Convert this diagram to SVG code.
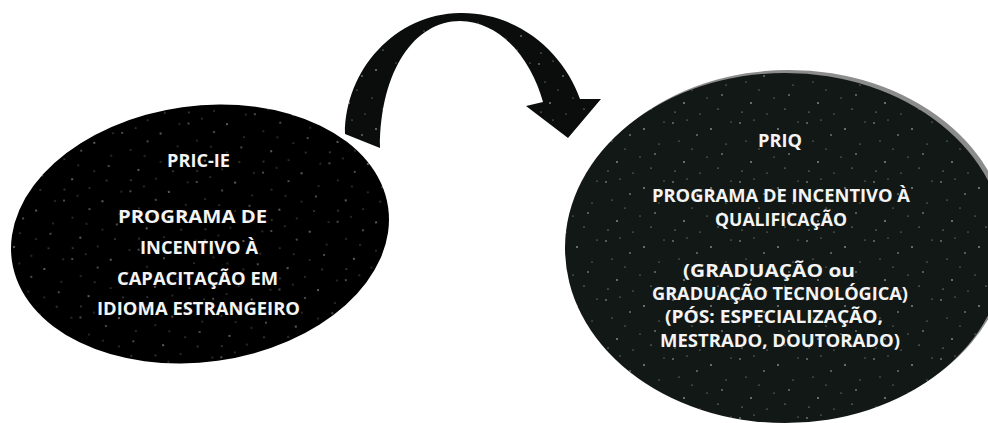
<svg xmlns="http://www.w3.org/2000/svg" width="988" height="423" viewBox="0 0 988 423">
  <defs>
    <pattern id="speck" width="67" height="59" patternUnits="userSpaceOnUse">
      <circle cx="3" cy="5" r="0.7"/>
      <circle cx="17" cy="2" r="0.5"/>
      <circle cx="41" cy="11" r="0.8"/>
      <circle cx="9" cy="23" r="0.5"/>
      <circle cx="27" cy="17" r="0.7"/>
      <circle cx="56" cy="26" r="0.5"/>
      <circle cx="14" cy="44" r="0.8"/>
      <circle cx="37" cy="39" r="0.5"/>
      <circle cx="5" cy="53" r="0.6"/>
      <circle cx="61" cy="4" r="0.5"/>
      <circle cx="48" cy="50" r="0.6"/>
      <circle cx="30" cy="55" r="0.5"/>
      <circle cx="52" cy="36" r="0.7"/>
      <circle cx="22" cy="31" r="0.5"/>
    </pattern>
    <style>
      .lbl { font-family: "Open Sans", Lato, "Liberation Sans", sans-serif; font-weight: 700; fill: #f4f4f4; text-anchor: middle; }
      .l { font-size: 18px; }
      .r { font-size: 17px; }
      .dots { fill: url(#speck); }
      #speck circle { fill: #ffffff; opacity: 0.8; }
    </style>
  </defs>
  <rect width="988" height="423" fill="#ffffff"/>

  <g id="connectors">
    <path id="arrow" d="M 345 134 C 345 70 395 14 460 13 C 520 12 565 55 580 99 L 601 99 L 568 138 L 526 106 L 543 102 C 533 65 505 22 460 21 C 415 21 380 70 380 148 Z" fill="#0a0d0b"/>
    <path d="M 345 134 C 345 70 395 14 460 13 C 520 12 565 55 580 99 L 601 99 L 568 138 L 526 106 L 543 102 C 533 65 505 22 460 21 C 415 21 380 70 380 148 Z" class="dots"/>
  </g>

  <g id="node-pric-ie">
    <ellipse cx="200" cy="234" rx="190" ry="128" transform="rotate(-8 200 234)" fill="#000000"/>
    <ellipse cx="200" cy="234" rx="190" ry="128" transform="rotate(-8 200 234)" class="dots"/>
    <text class="lbl l" x="198.5" y="167" textLength="63" lengthAdjust="spacingAndGlyphs">PRIC-IE</text>
    <text class="lbl l" x="192.5" y="223" textLength="149" lengthAdjust="spacingAndGlyphs">PROGRAMA DE</text>
    <text class="lbl l" x="199" y="254" textLength="118" lengthAdjust="spacingAndGlyphs">INCENTIVO À</text>
    <text class="lbl l" x="197.5" y="285" textLength="161" lengthAdjust="spacingAndGlyphs">CAPACITAÇÃO EM</text>
    <text class="lbl l" x="198.5" y="315" textLength="203" lengthAdjust="spacingAndGlyphs">IDIOMA ESTRANGEIRO</text>
  </g>

  <g id="node-priq">
    <ellipse cx="789" cy="245" rx="220" ry="175" fill="#8c8c8c"/>
    <ellipse cx="785" cy="248" rx="220" ry="175" fill="#121815"/>
    <ellipse cx="785" cy="248" rx="220" ry="175" class="dots"/>
    <text class="lbl r" x="780" y="147" textLength="44" lengthAdjust="spacingAndGlyphs">PRIQ</text>
    <text class="lbl r" x="781" y="202" textLength="258" lengthAdjust="spacingAndGlyphs">PROGRAMA DE INCENTIVO À</text>
    <text class="lbl r" x="781" y="226" textLength="132" lengthAdjust="spacingAndGlyphs">QUALIFICAÇÃO</text>
    <text class="lbl r" x="769" y="277" textLength="172" lengthAdjust="spacingAndGlyphs">(GRADUAÇÃO ou</text>
    <text class="lbl r" x="780" y="300" textLength="256" lengthAdjust="spacingAndGlyphs">GRADUAÇÃO TECNOLÓGICA)</text>
    <text class="lbl r" x="774" y="323" textLength="218" lengthAdjust="spacingAndGlyphs">(PÓS: ESPECIALIZAÇÃO,</text>
    <text class="lbl r" x="780" y="347" textLength="240" lengthAdjust="spacingAndGlyphs">MESTRADO, DOUTORADO)</text>
  </g>
</svg>
